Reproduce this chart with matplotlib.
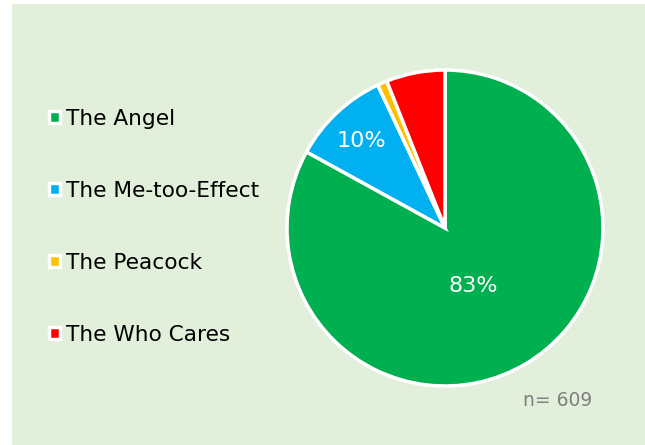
import matplotlib.pyplot as plt

# data
labels = ['The Angel', 'The Me-too-Effect', 'The Peacock', 'The Who Cares']
shares = [83, 10, 1, 6]
colors = ['#00B050', '#00B0F0', '#FFC000', '#FF0000']
n_total = 609

fig = plt.figure(figsize=(6.45, 4.45), dpi=100)
fig.patch.set_facecolor('white')

# light green panel behind everything
bg = fig.add_axes([12 / 645, 0, 1 - 12 / 645, 1 - 4 / 445], zorder=-1)
bg.set_facecolor('#E2EFDA')
bg.set_xticks([])
bg.set_yticks([])
for s in bg.spines.values():
    s.set_visible(False)

r = 158
cx, cy = 445, 445 - 228
ax = fig.add_axes([(cx - r) / 645, (cy - r) / 445, 2 * r / 645, 2 * r / 445])
ax.set_facecolor('none')


def label_pct(p):
    return f'{p:.0f}%' if p >= 9 else ''


wedges, texts, autotexts = ax.pie(
    shares, colors=colors, startangle=90, counterclock=False,
    autopct=label_pct, pctdistance=0.6,
    wedgeprops=dict(edgecolor='white', linewidth=2.5),
    textprops=dict(color='white', fontsize=16))
autotexts[1].set_position((-0.53, 0.55))
autotexts[0].set_position((0.18, -0.37))
ax.set_xlim(-1.0, 1.0)
ax.set_ylim(-1.0, 1.0)
ax.set_aspect('auto')

leg = fig.legend(wedges, labels, loc='upper left',
                 bbox_to_anchor=(40 / 645, 1 - 100 / 445),
                 frameon=False, fontsize=15.6, handlelength=0.5,
                 handleheight=0.5, handletextpad=0.3, labelspacing=2.4,
                 borderaxespad=0)

fig.text(558 / 645, 1 - 400 / 445, f'n= {n_total}', color='#7F7F7F',
         fontsize=13.5, ha='center', va='center')

plt.savefig('out.png', dpi=100)
